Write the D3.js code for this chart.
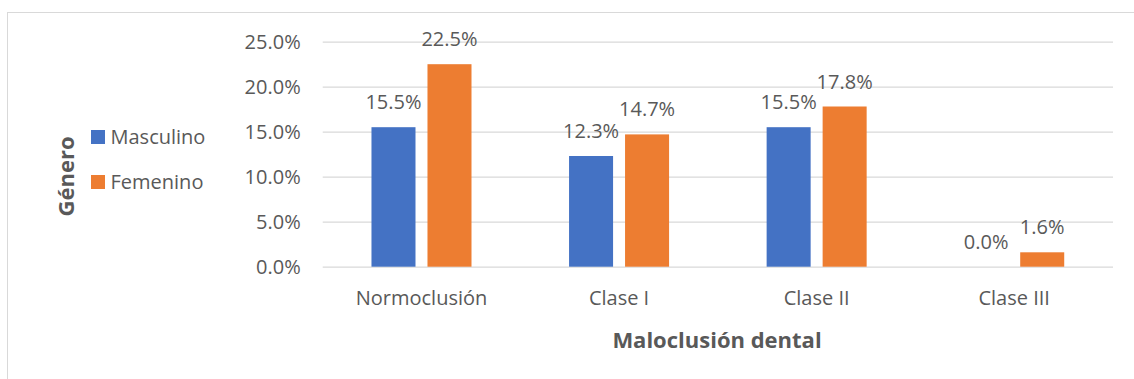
<!DOCTYPE html>
<html>
<head>
<meta charset="utf-8">
<script src="https://cdn.jsdelivr.net/npm/d3@7"></script>
<style>
  html, body { margin: 0; padding: 0; background: #ffffff; }
  svg { display: block; }
  text { font-family: "Open Sans", "Noto Sans", sans-serif; fill: #595959; }
</style>
</head>
<body>
<svg id="chart" width="1134" height="379"></svg>
<script>
const categories = ["Normoclusión", "Clase I", "Clase II", "Clase III"];
const seriesNames = ["Masculino", "Femenino"];
const masculino = [15.5, 12.3, 15.5, 0.0];
const femenino = [22.5, 14.7, 17.8, 1.6];
const yTicks = [0, 5, 10, 15, 20, 25];
const colors = ["#4472C4", "#ED7D31"];
const xTitle = "Maloclusión dental";
const yTitle = "Género";

const svg = d3.select("#chart");
const W = 1134, H = 379;
const plot = { left: 322.7, right: 1113, top: 41.7, bottom: 266.7 };

// chart frame
svg.append("rect")
  .attr("x", 7.5).attr("y", 12.5)
  .attr("width", W + 20).attr("height", H + 20)
  .attr("fill", "none").attr("stroke", "#d9d9d9").attr("stroke-width", 1);

const x0 = d3.scaleBand().domain(categories).range([plot.left, plot.right]).paddingInner(0).paddingOuter(0);
const x1 = d3.scaleBand().domain(seriesNames).range([0, x0.bandwidth()]).paddingInner(0.214).paddingOuter(0.871);
const y = d3.scaleLinear().domain([0, 25]).range([plot.bottom, plot.top]);
const color = d3.scaleOrdinal().domain(seriesNames).range(colors);

// gridlines
const grid = svg.append("g")
  .attr("transform", `translate(${plot.left},0)`)
  .call(d3.axisLeft(y).tickValues(yTicks).tickSize(-(plot.right - plot.left)).tickFormat(""));
grid.select(".domain").remove();
grid.selectAll("line").attr("stroke", "#d9d9d9").attr("stroke-width", 1.3);

// y axis labels
const yAxis = svg.append("g")
  .attr("transform", `translate(${plot.left},0)`)
  .call(d3.axisLeft(y).tickValues(yTicks).tickSize(0).tickPadding(22).tickFormat(d => d.toFixed(1) + "%"));
yAxis.select(".domain").remove();
yAxis.selectAll("text").style("font-family", "'Open Sans', sans-serif").style("font-size", "20px").attr("fill", "#595959");

// x axis labels
const xAxis = svg.append("g")
  .attr("transform", `translate(0,${plot.bottom})`)
  .call(d3.axisBottom(x0).tickSize(0).tickPadding(24));
xAxis.select(".domain").remove();
xAxis.selectAll("text").style("font-family", "'Open Sans', sans-serif").style("font-size", "20px").attr("fill", "#595959");

// bars
const rows = categories.map((c, i) => ({ cat: c, vals: [
  { s: seriesNames[0], v: masculino[i] },
  { s: seriesNames[1], v: femenino[i] }
]}));

const groups = svg.append("g").selectAll("g").data(rows).join("g")
  .attr("transform", d => `translate(${x0(d.cat)},0)`);

groups.selectAll("rect").data(d => d.vals).join("rect")
  .attr("x", d => x1(d.s))
  .attr("y", d => y(d.v))
  .attr("width", x1.bandwidth())
  .attr("height", d => y(0) - y(d.v))
  .attr("fill", d => color(d.s));

groups.selectAll("text.lbl").data(d => d.vals).join("text")
  .attr("class", "lbl")
  .attr("x", d => x1(d.s) + x1.bandwidth() / 2)
  .attr("y", d => y(d.v) - 18)
  .attr("text-anchor", "middle")
  .style("font-size", "20px")
  .text(d => d.v.toFixed(1) + "%");

// x title
svg.append("text")
  .attr("x", 717).attr("y", 348)
  .attr("text-anchor", "middle")
  .style("font-size", "22px").style("font-weight", "bold")
  .text(xTitle);

// y title
svg.append("text")
  .attr("transform", "translate(74,176.5) rotate(-90)")
  .attr("text-anchor", "middle")
  .style("font-size", "22px").style("font-weight", "bold")
  .text(yTitle);

// legend
const legend = svg.append("g").selectAll("g").data(seriesNames).join("g")
  .attr("transform", (d, i) => `translate(91,${130 + i * 45})`);
legend.append("rect").attr("width", 14).attr("height", 14).attr("fill", d => color(d));
legend.append("text").attr("x", 19.5).attr("y", 13.5)
  .style("font-size", "20px").text(d => d);
</script>
</body>
</html>
